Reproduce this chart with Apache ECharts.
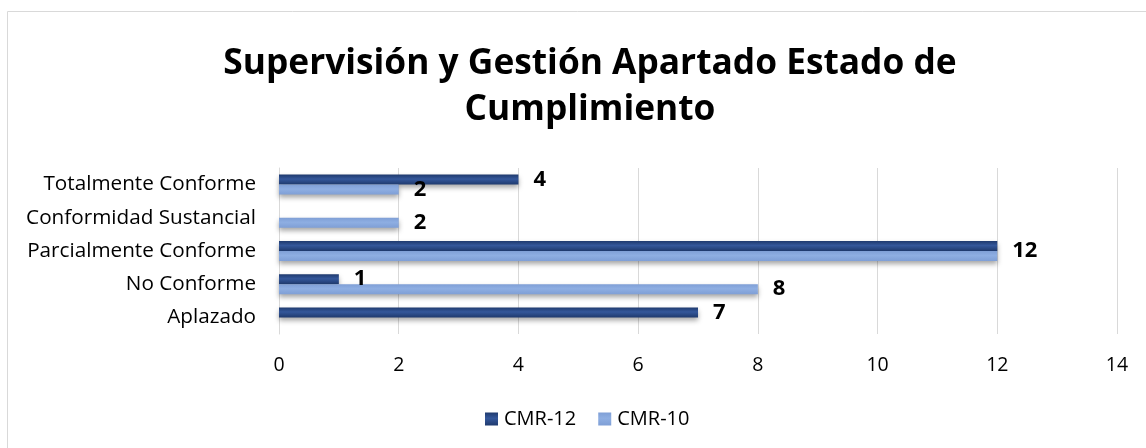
<!DOCTYPE html>
<html>
<head>
<meta charset="utf-8">
<script src="https://cdn.jsdelivr.net/npm/echarts@6/dist/echarts.min.js"></script>
<style>
  html, body { margin: 0; padding: 0; background: #fff; }
  #chart { width: 1146px; height: 448px; }
</style>
</head>
<body>
<div id="chart"></div>
<script>
// categories from bottom to top (as the y axis draws them)
const categories = ['Aplazado', 'No Conforme', 'Parcialmente Conforme', 'Conformidad Sustancial', 'Totalmente Conforme']
const cmr12 = [7, 1, 12, 0, 4]
const cmr10 = [0, 8, 12, 2, 2]
const xTicks = [0, 2, 4, 6, 8, 10, 12, 14]

const FONT = '"Open Sans", "Noto Sans", sans-serif'

const chart = echarts.init(document.getElementById('chart'))

function barGradient(edge, mid) {
  return new echarts.graphic.LinearGradient(0, 0, 0, 1, [
    { offset: 0, color: edge },
    { offset: 0.45, color: mid },
    { offset: 1, color: edge }
  ])
}

const labelStyle = {
  show: true,
  position: 'right',
  distance: 15,
  fontFamily: FONT,
  fontWeight: 'bold',
  fontSize: 22,
  color: '#000'
}

// when both bars end at the same value Excel keeps one label, centred on the pair
const cmr12Data = cmr12.map((v, i) => v === cmr10[i]
  ? { value: v, label: { offset: [0, 5] } }
  : v)

chart.setOption({
  animation: false,
  title: {
    text: 'Supervisión y Gestión Apartado Estado de\nCumplimiento',
    // the original chart is cropped on the right, so its centre sits right of the page centre
    left: 585,
    textAlign: 'center',
    top: 36,
    textStyle: {
      fontFamily: FONT,
      fontWeight: 'bold',
      fontSize: 35.3,
      lineHeight: 46,
      color: '#000'
    }
  },
  graphic: [{
    type: 'rect',
    shape: { x: 7.5, y: 11.5, width: 1200, height: 500 },
    style: { fill: null, stroke: '#d9d9d9', lineWidth: 1 },
    silent: true
  }],
  legend: {
    top: 404,
    left: 480,
    itemWidth: 13,
    itemHeight: 13,
    itemGap: 22,
    icon: 'rect',
    textStyle: { fontFamily: FONT, fontSize: 20, color: '#000', padding: [0, 0, 0, 1] },
    data: ['CMR-12', 'CMR-10']
  },
  grid: {
    left: 279,
    right: 29,
    top: 168,
    bottom: 114
  },
  xAxis: {
    type: 'value',
    min: 0,
    max: 14,
    interval: 2,
    axisLine: { show: false },
    axisTick: { show: false },
    axisLabel: {
      margin: 21,
      fontFamily: FONT,
      fontSize: 19.5,
      color: '#000',
      formatter: v => xTicks.includes(v) ? String(v) : ''
    },
    splitLine: { lineStyle: { color: '#d9d9d9', width: 1 } }
  },
  yAxis: {
    type: 'category',
    data: categories,
    axisLine: { show: true, lineStyle: { color: '#d9d9d9' } },
    axisTick: { show: false },
    axisLabel: {
      margin: 23,
      fontFamily: FONT,
      fontSize: 20.7,
      color: '#000'
    }
  },
  series: [{
    name: 'CMR-12',
    type: 'bar',
    data: cmr12Data,
    barWidth: 10,
    barGap: '0%',
    itemStyle: {
      color: barGradient('#1f3a6e', '#34579a'),
      shadowColor: 'rgba(0,0,0,0.35)',
      shadowBlur: 5,
      shadowOffsetY: 3
    },
    label: Object.assign({}, labelStyle, {
      formatter: p => p.value ? String(p.value) : ''
    })
  }, {
    name: 'CMR-10',
    type: 'bar',
    data: cmr10,
    barWidth: 10,
    barGap: '0%',
    itemStyle: {
      color: barGradient('#7f9fd6', '#8eaee2'),
      shadowColor: 'rgba(0,0,0,0.35)',
      shadowBlur: 5,
      shadowOffsetY: 3
    },
    label: Object.assign({}, labelStyle, {
      formatter: p => (p.value && p.value !== cmr12[p.dataIndex]) ? String(p.value) : ''
    })
  }]
})
</script>
</body>
</html>
